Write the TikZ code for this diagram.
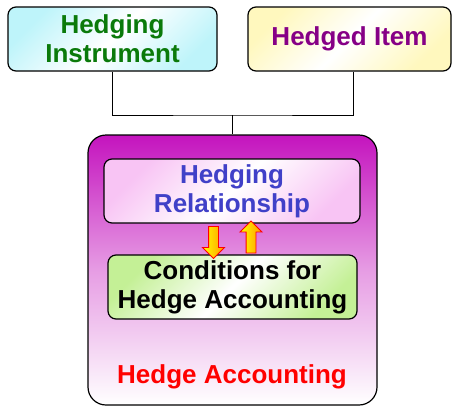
\documentclass[tikz,border=0pt]{standalone}
\usepackage{fontspec}
\setmainfont{Liberation Sans}
\usetikzlibrary{shapes.arrows,calc}
\definecolor{hgreen}{HTML}{0A7A0A}
\definecolor{hpurple}{HTML}{860086}
\definecolor{hblue}{HTML}{4040C8}
\definecolor{hmag}{HTML}{C414BE}
\definecolor{hcyan}{HTML}{BEF4FA}
\definecolor{hyel}{HTML}{FFF8BE}
\definecolor{hpink}{HTML}{F8C4F4}
\definecolor{hlgreen}{HTML}{C4F096}
\tikzset{
  txt/.style={font=\bfseries\fontsize{26}{29}\selectfont, align=center},
  box/.style={txt, draw=black, line width=1.2pt, rounded corners=8pt, inner sep=0pt, minimum height=64pt},
  diag/.style={top color=#1, bottom color=#1, middle color=white, shading angle=45},
  link/.style={draw=black, line width=1pt},
  blockarrow/.style={single arrow, draw=red, line width=0.9pt, left color=yellow, right color=orange!80!yellow,
    minimum height=32pt, inner sep=4.5pt, single arrow head extend=6pt, single arrow head indent=0pt}
}
\begin{document}
\begin{tikzpicture}[x=1pt,y=1pt]
\useasboundingbox (0,0) rectangle (452,-407);
% big container
\node[draw=black, line width=1.2pt, rounded corners=18pt, minimum width=289pt, minimum height=270pt,
  top color=hmag, bottom color=white, middle color=hmag!42!white] (big) at (232.5,-270) {};
\node[box, minimum width=209pt, text=hgreen, diag=hcyan] (hi) at (112.5,-39) {Hedging\\Instrument};
\node[box, minimum width=203pt, text=hpurple, diag=hyel] (hd) at (349.5,-39) {Hedged Item};
\node[box, minimum width=256pt, text=hblue, diag=hpink] (hr) at (232,-191) {Hedging\\Relationship};
\node[box, minimum width=249pt, text=black, diag=hlgreen] (cond) at (232.5,-287) {Conditions for\\Hedge Accounting};
\node[txt, text=red] (ha) at (232,-377) {Hedge Accounting};
% connectors
\coordinate (j) at (232.5,-115);
\draw[link] (hi.south) |- (j) -| ([xshift=3.5pt]hd.south);
\draw[link] (j) -- (big.north);
% block arrows
\node[blockarrow, rotate=-90] (down) at (213.5,-240) {};
\node[blockarrow, rotate=90] (up) at (251,-239.5) {};
\end{tikzpicture}
\end{document}
